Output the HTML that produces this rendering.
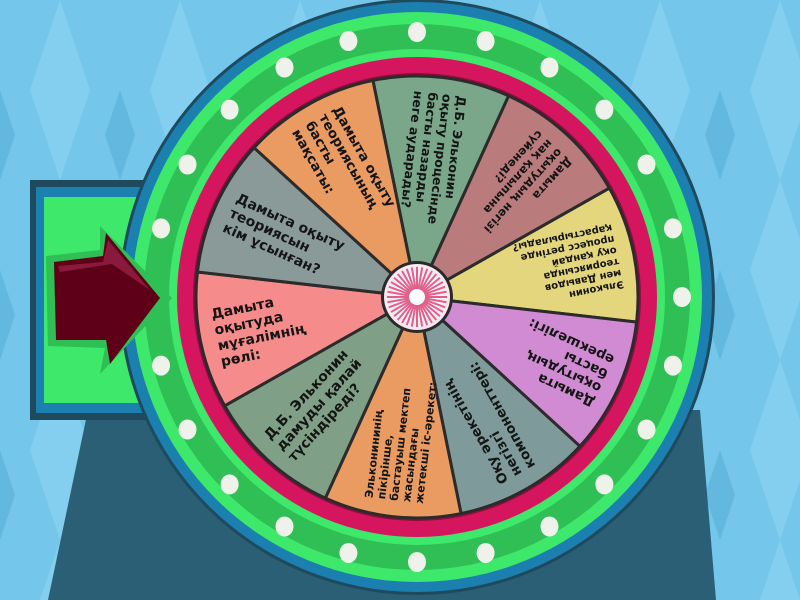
<!DOCTYPE html>
<html><head><meta charset="utf-8"><style>
html,body{margin:0;padding:0;width:800px;height:600px;overflow:hidden;background:#6cc0e4}
svg{display:block}
text{font-family:"DejaVu Sans","Liberation Sans",sans-serif;font-weight:bold;fill:#151515}
</style></head><body>
<svg width="800" height="600" viewBox="0 0 800 600" xmlns="http://www.w3.org/2000/svg">
<defs>
<pattern id="dia" width="120" height="180" patternUnits="userSpaceOnUse">
<rect width="120" height="180" fill="#74c6ea"/>
<polygon points="60,0 90,90 60,180 30,90" fill="#8ad3f2" opacity="0.7"/>
<polygon points="0,90 15,135 0,180" fill="#62b8df"/>
<polygon points="120,90 105,135 120,180" fill="#62b8df"/>
</pattern>
<radialGradient id="hub" cx="0.5" cy="0.5" r="0.5"><stop offset="0.3" stop-color="#fff"/><stop offset="1" stop-color="#fbe6ee"/></radialGradient>
</defs>
<rect width="800" height="600" fill="url(#dia)"/>
<polygon points="88,410 700,410 716,600 48,600" fill="#2a5f75"/>
<path d="M30,180 L230,180 L230,420 L30,420 Z" fill="#1f4a5e"/>
<path d="M36,187 L230,187 L230,413 L36,413 Z" fill="#1b80b0"/>
<path d="M44,197 L230,197 L230,403 L44,403 Z" fill="#3de86a"/>
<circle cx="417" cy="297" r="298" fill="#1f4a5e"/>
<circle cx="417" cy="297" r="295" fill="#1b80b0"/>
<circle cx="417" cy="297" r="285" fill="#3de86a"/>
<circle cx="417" cy="297" r="273" fill="#2fbf55"/>
<circle cx="417" cy="297" r="248" fill="#3de86a"/>
<circle cx="417" cy="297" r="240" fill="#d6155f"/>
<circle cx="417" cy="297" r="224" fill="#8a0f3e"/>
<polygon points="46,256 100,250 100,226 172,298 100,374 105,348 48,346" fill="#2fbf55"/>
<polygon points="54,262 103,256 106,233 160,298 110,364 106,340 56,340" fill="#5e0018"/>
<polygon points="58,266 103,262 108,240 150,290 112,264 60,272" fill="#8a1a3c"/>
<g id="dots" fill="#eef2ea"></g>
<g id="segs"></g>
<circle cx="417" cy="297" r="36" fill="#2a2a2a"/>
<circle cx="417" cy="297" r="33" fill="url(#hub)"/>
<g id="rays" stroke="#e0608c" stroke-width="2"></g>
<g id="txt"></g>
</svg>
<script>
const cx=417,cy=297,NS="http://www.w3.org/2000/svg";
function el(t,a,p){const e=document.createElementNS(NS,t);for(const k in a)e.setAttribute(k,a[k]);p.appendChild(e);return e;}
const dots=document.getElementById('dots');
for(let i=0;i<24;i++){if(i==6)continue;const a=(90+i*15)*Math.PI/180;el('ellipse',{cx:cx+265*Math.cos(a),cy:cy+265*Math.sin(a),rx:9,ry:10},dots);}
const rays=document.getElementById('rays');
for(let i=0;i<36;i++){const a=i*10*Math.PI/180;el('line',{x1:cx+8*Math.cos(a),y1:cy+8*Math.sin(a),x2:cx+30*Math.cos(a),y2:cy+30*Math.sin(a)},rays);}
const segs=document.getElementById('segs'),txt=document.getElementById('txt');
const colors=["#7aa68a","#b97b7b","#e4d67c","#d08bd2","#7f9a9b","#e99b62","#7fa086","#f68b8b","#8a9a99","#e99b62"];
const texts=[
[["Д.Б. Эльконин","оқыту процесінде","басты назарды","неге аударады?"],12.5],
[["Дамыта","оқытудың негізі","нақ қалыпына","сүйенеді?"],11.5],
[["Эльконин","мен Давыдов","теориясында","оқу қандай","процесс ретінде","қарастырылады?"],10],
[["Дамыта","оқытудың","басты","ерекшелігі:"],13.5],
[["Оқу әрекетінің","негізгі","компоненттері:"],13.5],
[["Эльконининің","пікірінше,","бастауыш мектеп","жасындағы","жетекші іс-әрекет:"],11],
[["Д.Б. Эльконин","дамуды қалай","түсіндіреді?"],14],
[["Дамыта","оқытуда","мұғалімнің","рөлі:"],14],
[["Дамыта оқыту","теориясын","кім ұсынған?"],14],
[["Дамыта оқыту","теориясының","басты","мақсаты:"],13.5]];
const R=221;
for(let i=0;i<10;i++){
 const a0=(-101.5+i*36)*Math.PI/180,a1=(-65.5+i*36)*Math.PI/180;
 el('path',{d:`M${cx},${cy} L${cx+R*Math.cos(a0)},${cy+R*Math.sin(a0)} A${R},${R} 0 0 1 ${cx+R*Math.cos(a1)},${cy+R*Math.sin(a1)} Z`,fill:colors[i],stroke:"#2b2b2b","stroke-width":3},segs);
 const mid=-83.5+i*36;
 const [lines,fs]=texts[i];
 const g=el('g',{transform:`translate(${cx},${cy}) rotate(${mid+180})`},txt);
 const lh=fs*1.15,n=lines.length;
 lines.forEach((s,j)=>{const t=el('text',{x:-205,y:(j-(n-1)/2)*lh+fs*0.35,'font-size':fs},g);t.textContent=s;});
}
</script>
</body></html>
